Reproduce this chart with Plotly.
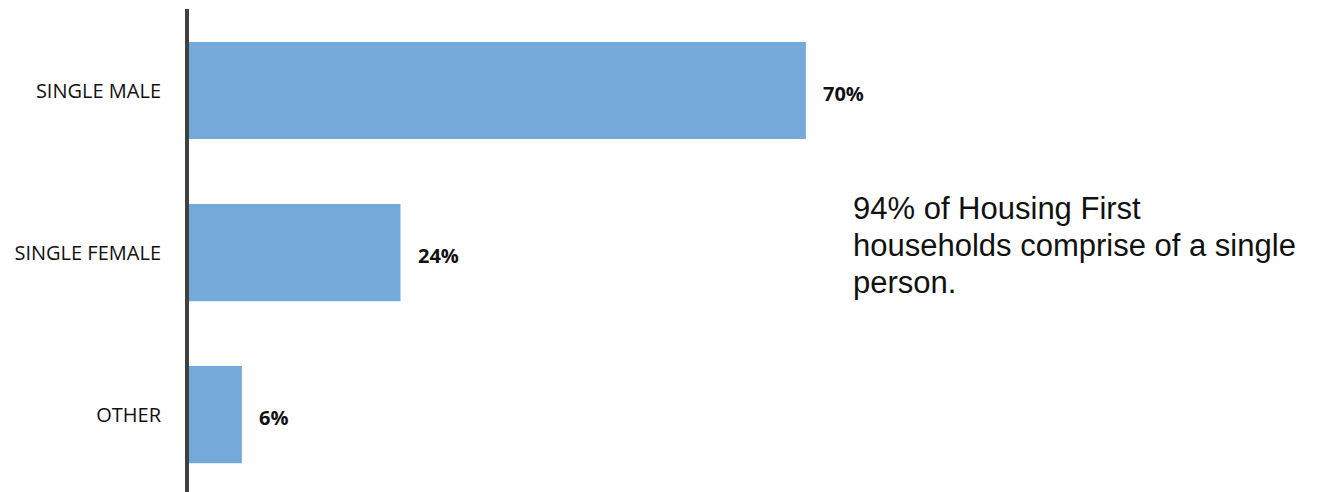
import plotly.graph_objects as go

categories = ["SINGLE MALE", "SINGLE FEMALE", "OTHER"]
shares = [70, 24, 6]
value_labels = ["70%", "24%", "6%"]
note_lines = ["94% of Housing First", "households comprise of a single", "person."]

bar_color = "#75A9DA"
axis_color = "#404040"

LEFT, TOP = 189, 9
W, H = 1317, 492

fig = go.Figure(
    go.Bar(
        x=shares,
        y=categories,
        orientation="h",
        width=0.6,
        marker=dict(color=bar_color, line=dict(width=0)),
        hoverinfo="skip",
    )
)

# percentage labels just to the right of each bar
for cat, val, lab in zip(categories, shares, value_labels):
    fig.add_annotation(
        x=val, y=cat, xref="x", yref="y",
        text=f"<b>{lab}</b>", showarrow=False,
        xanchor="left", yanchor="middle", xshift=15, yshift=-3,
        font=dict(family="Open Sans", size=20, color="#111111"),
    )

# side note, one annotation per line for tight line spacing
plot_w = W - LEFT
plot_h = H - TOP
for i, line in enumerate(note_lines):
    y_px = 209 + i * 36.5
    fig.add_annotation(
        x=(851 - LEFT) / plot_w, y=1 - (y_px - TOP) / plot_h,
        xref="paper", yref="paper",
        text=line, showarrow=False, align="left",
        xanchor="left", yanchor="middle",
        font=dict(family="Liberation Sans", size=31, color="#111111"),
    )

fig.update_layout(
    width=W, height=H,
    margin=dict(l=LEFT, r=0, t=TOP, b=0),
    paper_bgcolor="white", plot_bgcolor="white",
    showlegend=False,
    xaxis=dict(range=[0, 128.0], visible=False, fixedrange=True),
    yaxis=dict(
        categoryorder="array", categoryarray=categories,
        range=[2.478, -0.503],
        showline=True, linecolor=axis_color, linewidth=4,
        showgrid=False, zeroline=False, ticks="",
        ticklabelstandoff=20,
        tickfont=dict(family="Open Sans", size=20, color="#111111"),
        fixedrange=True,
    ),
)

fig.write_html("out.html")
